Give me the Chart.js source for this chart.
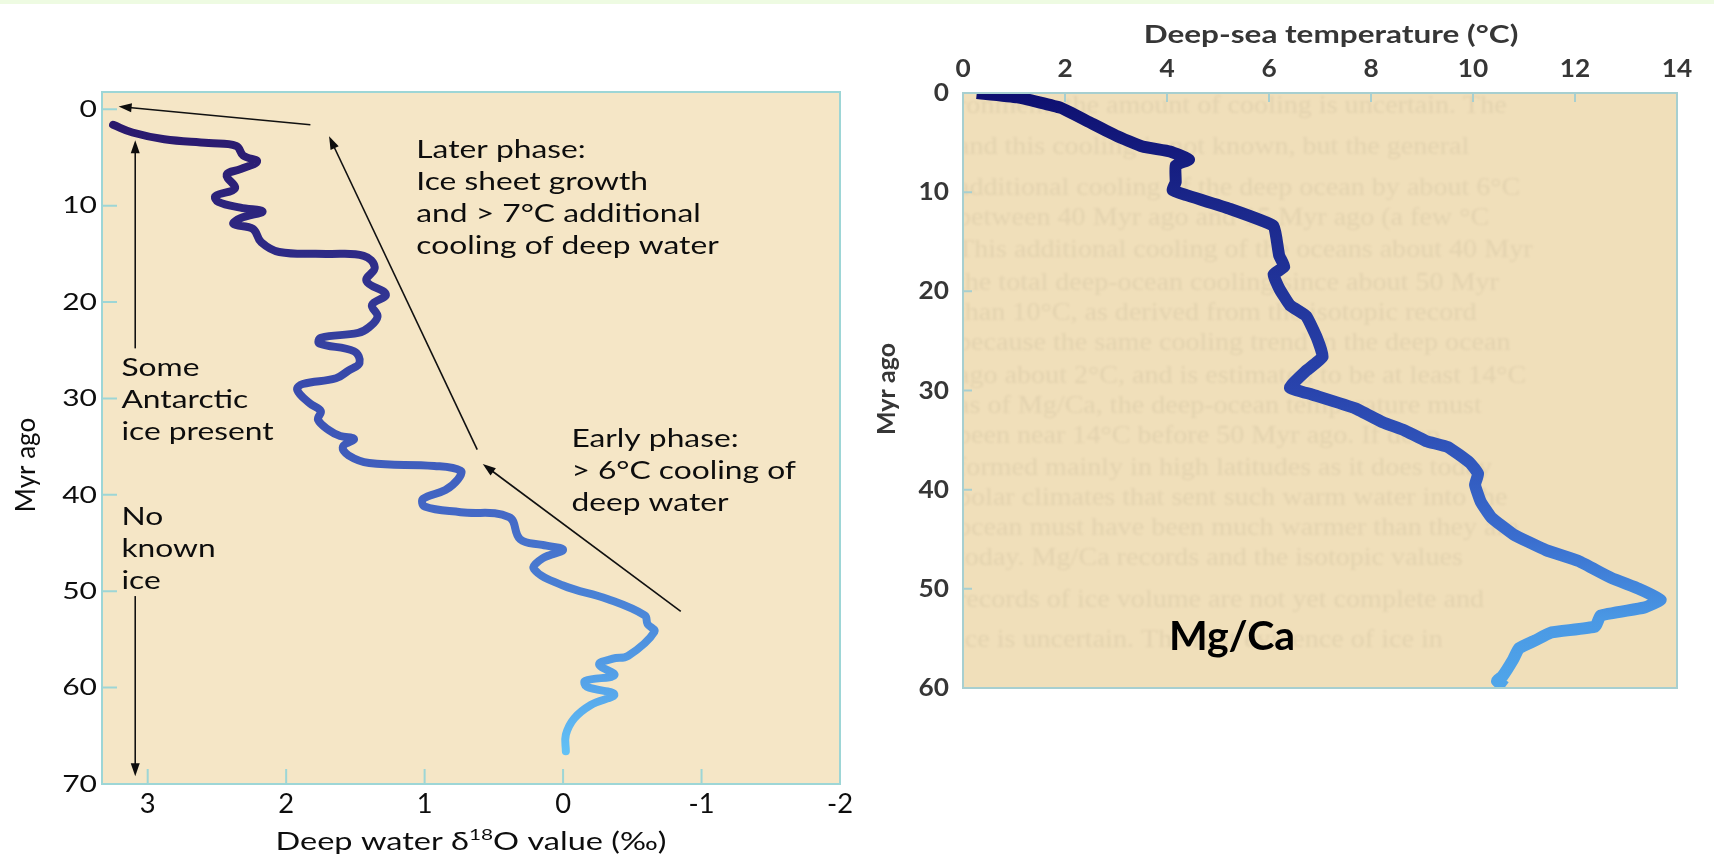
<!DOCTYPE html>
<html>
<head>
<meta charset="utf-8">
<script src="https://cdn.jsdelivr.net/npm/chart.js@4.4.1/dist/chart.umd.min.js"></script>
<style>
body{margin:0;background:#fff;width:1714px;height:854px;overflow:hidden;position:relative}
#band{position:absolute;left:0;top:0;width:1714px;height:4px;background:#eefbe2}
#left{position:absolute;left:0;top:0}
#right{position:absolute;left:860px;top:0;filter:blur(0.4px)}
</style>
</head>
<body>
<div id="band"></div>
<canvas id="left" width="860" height="854"></canvas>
<canvas id="right" width="854" height="854"></canvas>
<script>
// deep water d18O record (per mil) against age (Myr ago)
let isoAge = [1.6, 2.4, 3.1, 3.5, 3.8, 4.8, 5.4, 6.2, 6.8, 8.2, 9.0, 9.6, 10.2, 10.6, 11.3, 11.9, 12.4, 13.8, 14.8, 15.0,
  15.2, 16.4, 17.8, 19.2, 20.3, 21.5, 22.6, 23.2, 23.7, 24.3, 25.1, 26.3, 27.1, 27.9, 28.5, 29.1, 30.5, 31.3, 32.2, 33.3,
  33.9, 34.2, 35.0, 35.9, 36.7, 37.0, 37.5, 38.4, 39.5, 40.4, 41.2, 41.8, 42.3, 44.6, 45.2, 45.7, 46.6, 47.7, 49.4, 50.8,
  52.5, 53.4, 54.2, 56.7, 57.0, 57.6, 58.7, 59.3, 59.9, 60.7, 61.8, 63.2, 64.9, 66.6]
let isoValue = [3.25, 3.11, 2.88, 2.56, 2.36, 2.31, 2.21, 2.33, 2.43, 2.37, 2.51, 2.49, 2.33, 2.17, 2.33, 2.38, 2.24, 2.18, 2.05, 1.71,
  1.44, 1.36, 1.42, 1.28, 1.38, 1.34, 1.40, 1.48, 1.75, 1.76, 1.51, 1.47, 1.55, 1.64, 1.88, 1.92, 1.83, 1.75, 1.77, 1.69,
  1.61, 1.51, 1.59, 1.55, 1.40, 0.93, 0.74, 0.76, 0.85, 1.01, 1.00, 0.74, 0.39, 0.31, 0.15, 0.00, 0.15, 0.21, 0.00, -0.32,
  -0.59, -0.61, -0.66, -0.47, -0.36, -0.26, -0.37, -0.16, -0.17, -0.37, -0.20, -0.08, -0.02, -0.02]
let isoTicks = [3, 2, 1, 0, -1, -2]
let isoAgeTicks = [0, 10, 20, 30, 40, 50, 60, 70]

// Mg/Ca deep-sea temperature (deg C) against age (Myr ago)
let tempAge = [0, 0.44, 1.5, 2.9, 4.3, 5.4, 5.9, 6.7, 7.3, 9.0, 9.8, 10.3, 11.7, 13.4, 14.8, 16.4, 17.5, 18.3, 19.7, 21.4,
  22.5, 24.7, 26.6, 28.0, 29.7, 30.4, 31.8, 33.2, 34.0, 35.1, 35.7, 37.3, 38.4, 39.5, 41.2, 42.8, 44.5, 46.1, 47.2, 48.9,
  50.0, 51.1, 51.9, 52.7, 53.8, 54.4, 55.2, 56.0, 57.1, 58.8, 59.3, 59.9]
let tempValue = [0.27, 1.07, 1.92, 2.46, 3.0, 3.52, 4.06, 4.43, 4.17, 4.17, 4.11, 4.38, 5.24, 6.09, 6.15, 6.2, 6.3, 6.09, 6.2, 6.41,
  6.73, 6.94, 7.05, 6.73, 6.41, 6.84, 7.69, 8.23, 8.65, 9.08, 9.51, 9.94, 10.1, 10.04, 10.15, 10.36, 10.79, 11.43, 12.07, 12.71,
  13.25, 13.68, 13.35, 12.5, 12.4, 11.54, 11.22, 10.9, 10.79, 10.58, 10.47, 10.63]
let tempTicks = [0, 2, 4, 6, 8, 10, 12, 14]
let tempAgeTicks = [0, 10, 20, 30, 40, 50, 60]

const FONT = 'Lato, "Open Sans", sans-serif'

// colour ramps along the age axis
const isoRamp = [[0, '#2a176a'], [15, '#2e2a86'], [30, '#3a4fb1'], [42, '#4469c6'], [52, '#4b86d8'], [60, '#56a5ea'], [67, '#63c2f6']]
const tempRamp = [[0, '#0e0f70'], [12, '#1b288c'], [30, '#2944ad'], [45, '#3a6ecf'], [53, '#4a98e4'], [60, '#50a6ea']]

function ageGradient(chart, ramp) {
  const y = chart.scales.y
  if (!chart.chartArea || !y) return ramp[0][1]
  const a = ramp[0][0], b = ramp[ramp.length - 1][0]
  const g = chart.ctx.createLinearGradient(0, y.getPixelForValue(a), 0, y.getPixelForValue(b))
  ramp.forEach(([v, c]) => g.addColorStop((v - a) / (b - a), c))
  return g
}

// text drawn with a horizontal stretch (the printed figure is set wide)
function wideText(ctx, s, x, y, sx, align) {
  const w = ctx.measureText(s).width * sx
  const left = align === 'center' ? x - w / 2 : align === 'right' ? x - w : x
  ctx.save()
  ctx.translate(left, y)
  ctx.scale(sx, 1)
  ctx.textAlign = 'left'
  ctx.fillText(s, 0, 0)
  ctx.restore()
  return w
}

function arrow(ctx, x1, y1, x2, y2) {
  const ang = Math.atan2(y2 - y1, x2 - x1)
  const len = 13, half = 4.5
  ctx.beginPath()
  ctx.moveTo(x1, y1)
  ctx.lineTo(x2 - Math.cos(ang) * len * 0.8, y2 - Math.sin(ang) * len * 0.8)
  ctx.stroke()
  ctx.beginPath()
  ctx.moveTo(x2, y2)
  ctx.lineTo(x2 - Math.cos(ang) * len - Math.sin(ang) * half, y2 - Math.sin(ang) * len + Math.cos(ang) * half)
  ctx.lineTo(x2 - Math.cos(ang) * len + Math.sin(ang) * half, y2 - Math.sin(ang) * len - Math.cos(ang) * half)
  ctx.closePath()
  ctx.fill()
}

// frame + inward tick marks
function frame(chart, color, lenX, lenY, xAtTop) {
  const {ctx, chartArea: a, scales: {x, y}} = chart
  ctx.save()
  ctx.strokeStyle = color
  ctx.lineWidth = 2
  ctx.strokeRect(a.left, a.top, a.width, a.height)
  ctx.beginPath()
  x.ticks.forEach(t => {
    const px = x.getPixelForValue(t.value)
    if (xAtTop) { ctx.moveTo(px, a.top); ctx.lineTo(px, a.top + lenX) }
    else { ctx.moveTo(px, a.bottom); ctx.lineTo(px, a.bottom - lenX) }
  })
  y.ticks.forEach(t => {
    const py = y.getPixelForValue(t.value)
    ctx.moveTo(a.left, py); ctx.lineTo(a.left + lenY, py)
  })
  ctx.stroke()
  ctx.restore()
}

// arrows and notes on the isotope panel, in data units (d18O, Myr)
const isoArrows = [
  [1.825, 1.6, 3.21, -0.3],
  [0.62, 35.3, 1.69, 2.8],
  [-0.85, 52.1, 0.58, 36.8],
  [3.09, 24.8, 3.09, 3.2],
  [3.09, 50.5, 3.09, 69.2]
]
const isoNotes = [
  [1.06, 4.2, ['Later phase:', 'Ice sheet growth', 'and > 7°C additional', 'cooling of deep water']],
  [-0.06, 34.2, ['Early phase:', '> 6°C cooling of', 'deep water']],
  [3.19, 26.8, ['Some', 'Antarctic', 'ice present']],
  [3.19, 42.3, ['No', 'known', 'ice']]
]

const isoPanel = {
  id: 'isoPanel',
  beforeDraw(chart) {
    const {ctx, chartArea: a} = chart
    ctx.save()
    ctx.fillStyle = '#f5e6c6'
    ctx.fillRect(a.left, a.top, a.width, a.height)
    ctx.restore()
  },
  afterDraw(chart) {
    const {ctx, chartArea: a, scales: {x, y}} = chart
    frame(chart, '#9dd6d6', 15, 15, false)
    ctx.save()
    ctx.strokeStyle = '#111'
    ctx.fillStyle = '#0d0d0d'
    ctx.lineWidth = 1.6
    isoArrows.forEach(r => arrow(ctx, x.getPixelForValue(r[0]), y.getPixelForValue(r[1]), x.getPixelForValue(r[2]), y.getPixelForValue(r[3])))

    ctx.textBaseline = 'middle'
    ctx.font = '25px ' + FONT
    isoNotes.forEach(([vx, vy, lines]) => {
      const px = x.getPixelForValue(vx), py = y.getPixelForValue(vy)
      lines.forEach((s, i) => wideText(ctx, s, px, py + i * 32, 1.27, 'left'))
    })

    // tick labels
    ctx.font = '24px ' + FONT
    y.ticks.forEach(t => wideText(ctx, String(t.value), a.left - 5, y.getPixelForValue(t.value), 1.25, 'right'))
    ctx.font = '26px ' + FONT
    x.ticks.forEach(t => wideText(ctx, String(t.value), x.getPixelForValue(t.value), a.bottom + 21, 1.05, 'center'))

    // axis titles
    ctx.textBaseline = 'alphabetic'
    const sx = 1.3, base = 850
    ctx.font = '25px ' + FONT
    const w0 = ctx.measureText('Deep water δ').width * sx
    const w2 = ctx.measureText('O value (‰)').width * sx
    ctx.font = '16px ' + FONT
    const w1 = ctx.measureText('18').width * sx
    let tx = (a.left + a.right) / 2 - (w0 + w1 + w2) / 2
    ctx.font = '25px ' + FONT
    wideText(ctx, 'Deep water δ', tx, base, sx, 'left')
    ctx.font = '16px ' + FONT
    wideText(ctx, '18', tx + w0, base - 10, sx, 'left')
    ctx.font = '25px ' + FONT
    wideText(ctx, 'O value (‰)', tx + w0 + w1, base, sx, 'left')

    ctx.translate(27, 465)
    ctx.rotate(-Math.PI / 2)
    ctx.textAlign = 'center'
    ctx.textBaseline = 'middle'
    ctx.font = '26px ' + FONT
    ctx.fillText('Myr ago', 0, 0)
    ctx.restore()
  }
}

// faint lines of the book page showing through the scanned figure
const pageLines = [
  'ronment, the amount of cooling is uncertain. The',
  'and this cooling is not known, but the general',
  'additional cooling of the deep ocean by about 6°C',
  'between 40 Myr ago and 15 Myr ago (a few °C',
  'This additional cooling of the oceans about 40 Myr',
  'the total deep-ocean cooling since about 50 Myr',
  'than 10°C, as derived from the isotopic record',
  'because the same cooling trend in the deep ocean',
  'ago about 2°C, and is estimated to be at least 14°C',
  'as of Mg/Ca, the deep-ocean temperature must',
  'been near 14°C before 50 Myr ago. If deep',
  'formed mainly in high latitudes as it does today',
  'polar climates that sent such warm water into the',
  'ocean must have been much warmer than they are',
  'today. Mg/Ca records and the isotopic values',
  'records of ice volume are not yet complete and',
  'ice is uncertain. The first evidence of ice in'
]
const pageTop = [106, 147, 188, 218, 250, 283, 313, 343, 376, 406, 436, 468, 498, 528, 558, 600, 640]

const grey = '#363636'

const tempPanel = {
  id: 'tempPanel',
  beforeDraw(chart) {
    const {ctx, chartArea: a} = chart
    ctx.save()
    ctx.fillStyle = '#f0dfba'
    ctx.fillRect(a.left, a.top, a.width, a.height)
    ctx.beginPath()
    ctx.rect(a.left, a.top, a.width, a.height)
    ctx.clip()
    ctx.filter = 'blur(1.2px)'
    ctx.fillStyle = 'rgba(95,75,45,0.08)'
    ctx.font = '26px "Liberation Serif", serif'
    ctx.textBaseline = 'middle'
    pageLines.forEach((s, i) => wideText(ctx, s, a.left - 6, pageTop[i], 1.08, 'left'))
    ctx.restore()
  },
  afterDraw(chart) {
    const {ctx, chartArea: a, scales: {x, y}} = chart
    frame(chart, '#a7cfd0', 9, 9, true)
    ctx.save()
    ctx.fillStyle = grey
    ctx.textBaseline = 'middle'
    ctx.font = 'bold 25px ' + FONT
    x.ticks.forEach(t => wideText(ctx, String(t.value), x.getPixelForValue(t.value), 69, 1.05, 'center'))
    y.ticks.forEach(t => wideText(ctx, String(t.value), a.left - 14, y.getPixelForValue(t.value), 1.05, 'right'))
    wideText(ctx, 'Deep-sea temperature (°C)', (a.left + a.right) / 2 + 11, 35, 1.26, 'center')
    ctx.save()
    ctx.translate(27, 389)
    ctx.rotate(-Math.PI / 2)
    ctx.textAlign = 'center'
    ctx.fillText('Myr ago', 0, 0)
    ctx.restore()

    ctx.fillStyle = '#000'
    ctx.textBaseline = 'alphabetic'
    ctx.font = 'bold 41px ' + FONT
    wideText(ctx, 'Mg/Ca', 372, 650, 1.0, 'center')
    ctx.restore()
  }
}

const fixedTicks = list => s => { s.ticks = list.map(v => ({value: v})) }
const flat = {drawOnChartArea: false, drawTicks: false}

new Chart(document.getElementById('left'), {
  type: 'scatter',
  data: {
    datasets: [{
      data: isoAge.map((a, i) => ({x: isoValue[i], y: a})),
      showLine: true,
      pointRadius: 0,
      borderWidth: 8,
      tension: 0.4,
      borderCapStyle: 'round',
      borderJoinStyle: 'round',
      borderColor: c => ageGradient(c.chart, isoRamp)
    }]
  },
  options: {
    responsive: false,
    devicePixelRatio: 1,
    animation: false,
    layout: {padding: {top: 92, right: 20, left: 0, bottom: 0}},
    plugins: {legend: {display: false}, tooltip: {enabled: false}},
    scales: {
      x: {
        type: 'linear', reverse: true, min: -2, max: 3.33,
        afterFit: s => { s.height = 70 },
        afterBuildTicks: fixedTicks(isoTicks),
        grid: flat, border: {display: false},
        ticks: {display: false}
      },
      y: {
        type: 'linear', reverse: true, min: -1.8, max: 70,
        afterFit: s => { s.width = 102 },
        afterBuildTicks: fixedTicks(isoAgeTicks),
        grid: flat, border: {display: false},
        ticks: {display: false}
      }
    }
  },
  plugins: [isoPanel]
})

new Chart(document.getElementById('right'), {
  type: 'scatter',
  data: {
    datasets: [{
      data: tempAge.map((a, i) => ({x: tempValue[i], y: a})),
      showLine: true,
      pointRadius: 0,
      borderWidth: 12,
      tension: 0.12,
      borderJoinStyle: 'round',
      borderColor: c => ageGradient(c.chart, tempRamp)
    }]
  },
  options: {
    responsive: false,
    devicePixelRatio: 1,
    animation: false,
    layout: {padding: {top: 0, right: 37, left: 0, bottom: 166}},
    plugins: {legend: {display: false}, tooltip: {enabled: false}},
    scales: {
      x: {
        type: 'linear', position: 'top', min: 0, max: 14,
        afterFit: s => { s.height = 93 },
        afterBuildTicks: fixedTicks(tempTicks),
        grid: flat, border: {display: false},
        ticks: {display: false}
      },
      y: {
        type: 'linear', reverse: true, min: 0, max: 60,
        afterFit: s => { s.width = 103 },
        afterBuildTicks: fixedTicks(tempAgeTicks),
        grid: flat, border: {display: false},
        ticks: {display: false}
      }
    }
  },
  plugins: [tempPanel]
})
</script>
</body>
</html>
